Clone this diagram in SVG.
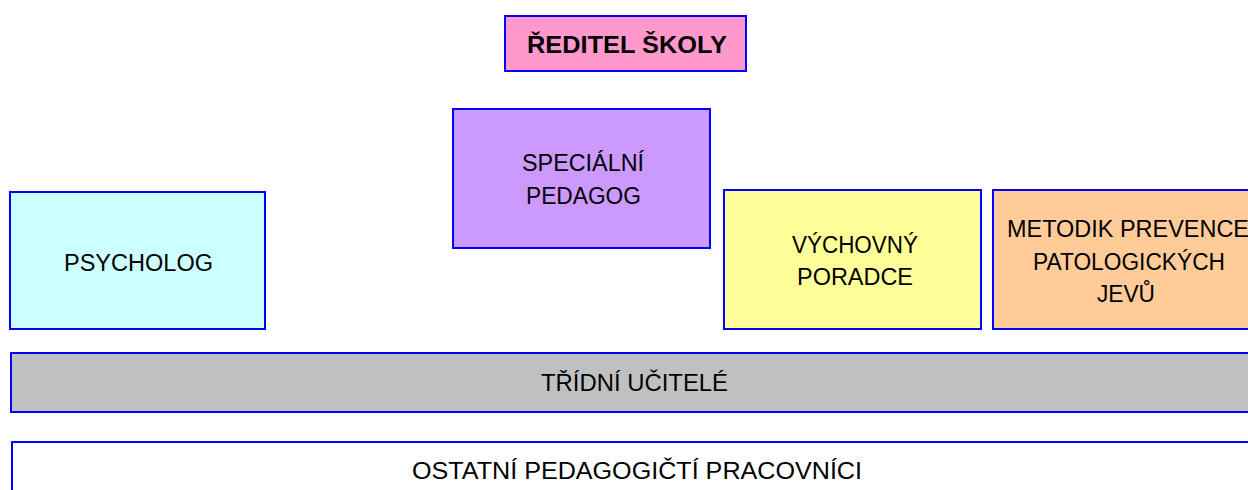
<svg xmlns="http://www.w3.org/2000/svg" width="1248" height="490" viewBox="0 0 1248 490">
<style>
.b{stroke:#0000FF;stroke-width:2}
.t{font-family:"Liberation Sans",Arial,sans-serif;font-size:23px;fill:#000;text-anchor:middle}
.bold{font-weight:bold;font-size:24px}
</style>
<rect width="1248" height="490" fill="#fff"/>
<g id="reditel"><rect class="b" x="505" y="16" width="241" height="55" fill="#FF99CC"/><text class="t bold" x="627" y="53" textLength="200" lengthAdjust="spacingAndGlyphs">ŘEDITEL ŠKOLY</text></g>
<g id="specialni"><rect class="b" x="453" y="109" width="257" height="139" fill="#CC99FF"/><text class="t" x="583" y="171" textLength="122" lengthAdjust="spacingAndGlyphs">SPECIÁLNÍ</text><text class="t" x="583.5" y="204" textLength="115" lengthAdjust="spacingAndGlyphs">PEDAGOG</text></g>
<g id="psycholog"><rect class="b" x="10" y="192" width="255" height="137" fill="#CCFFFF"/><text class="t" x="138.5" y="271" textLength="149" lengthAdjust="spacingAndGlyphs">PSYCHOLOG</text></g>
<g id="vychovny"><rect class="b" x="724" y="190" width="257" height="139" fill="#FFFF99"/><text class="t" x="855" y="253" textLength="126" lengthAdjust="spacingAndGlyphs">VÝCHOVNÝ</text><text class="t" x="855" y="285" textLength="116" lengthAdjust="spacingAndGlyphs">PORADCE</text></g>
<g id="metodik"><rect class="b" x="993" y="190" width="262" height="139" fill="#FFCC99"/><text class="t" x="1128" y="237" textLength="242" lengthAdjust="spacingAndGlyphs">METODIK PREVENCE</text><text class="t" x="1129" y="270" textLength="192" lengthAdjust="spacingAndGlyphs">PATOLOGICKÝCH</text><text class="t" x="1126" y="302" textLength="58" lengthAdjust="spacingAndGlyphs">JEVŮ</text></g>
<g id="tridni"><rect class="b" x="11" y="353" width="1244" height="59" fill="#C0C0C0"/><text class="t" x="634.5" y="391" textLength="187" lengthAdjust="spacingAndGlyphs">TŘÍDNÍ UČITELÉ</text></g>
<g id="ostatni"><rect class="b" x="12" y="442" width="1243" height="60" fill="#FFFFFF"/><text class="t" x="637" y="479" textLength="450" lengthAdjust="spacingAndGlyphs">OSTATNÍ PEDAGOGIČTÍ PRACOVNÍCI</text></g>
<g id="connectors"></g>
</svg>
